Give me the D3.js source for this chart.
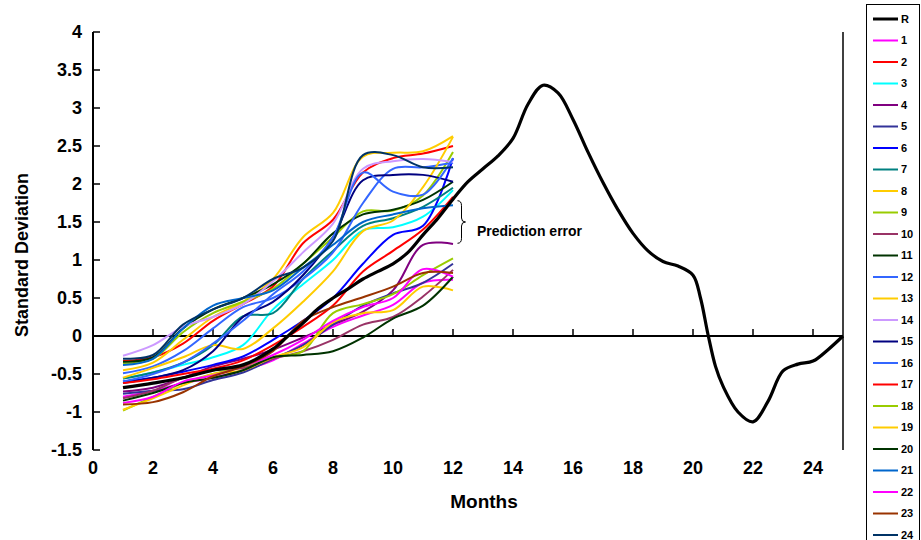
<!DOCTYPE html>
<html>
<head>
<meta charset="utf-8">
<script src="https://cdn.jsdelivr.net/npm/d3@7"></script>
<style>
	body { margin: 0; background: #fff; }
	svg text { font-family: "Liberation Sans", Arial, sans-serif; font-weight: bold; fill: #000; }
</style>
</head>
<body>
<div id="chart"></div>
<script>
// reference run R, sampled finer than the members
const refMonths = [1,2,3,4,5,6,6.5,7,7.5,8,8.5,9,9.5,10,10.5,11,11.5,12,12.5,13,13.5,14,14.5,15,15.5,16,16.5,17,17.5,18,18.5,19,19.5,20,20.25,20.5,20.75,21,21.5,22,22.5,23,23.5,24,24.5,25];
const refValues = [-0.68,-0.62,-0.55,-0.45,-0.38,-0.17,0.0,0.17,0.36,0.5,0.62,0.75,0.85,0.95,1.1,1.33,1.55,1.8,2.03,2.2,2.37,2.6,3.05,3.3,3.2,2.85,2.42,2.02,1.66,1.35,1.12,0.98,0.92,0.8,0.5,0.02,-0.4,-0.66,-1.0,-1.13,-0.86,-0.46,-0.37,-0.33,-0.18,0];

// ensemble members, months 1..12
const months = [1,2,3,4,5,6,7,8,9,10,11,12];
const m1  = [-0.8,-0.72,-0.62,-0.55,-0.45,-0.32,-0.1,0.12,0.27,0.41,0.7,0.74];
const m2  = [-0.33,-0.28,-0.1,0.2,0.42,0.65,1.22,1.53,2.15,2.34,2.4,2.5];
const m3  = [-0.56,-0.48,-0.38,-0.28,-0.12,0.35,0.68,1.0,1.39,1.43,1.57,1.92];
const m4  = [-0.73,-0.68,-0.55,-0.4,-0.3,-0.18,-0.02,0.15,0.32,0.6,1.2,1.21];
const m5  = [-0.76,-0.72,-0.7,-0.58,-0.48,-0.3,-0.12,0.15,0.4,0.56,0.7,0.95];
const m6  = [-0.6,-0.55,-0.47,-0.38,-0.27,-0.05,0.2,0.5,0.95,1.33,1.45,2.34];
const m7  = [-0.56,-0.48,-0.35,-0.12,0.26,0.3,0.75,1.12,1.45,1.55,1.7,1.95];
const m8  = [-0.45,-0.35,-0.05,0.25,0.45,0.75,1.3,1.62,2.36,2.41,2.43,2.63];
const m9  = [-0.36,-0.3,0.05,0.3,0.45,0.62,0.95,1.3,1.64,1.65,1.85,2.42];
const m10 = [-0.82,-0.72,-0.55,-0.45,-0.42,-0.3,-0.2,-0.05,0.15,0.25,0.52,0.87];
const m11 = [-0.34,-0.28,0.1,0.35,0.5,0.68,0.95,1.35,1.6,1.66,1.79,2.03];
const m12 = [-0.49,-0.4,-0.2,0.1,0.38,0.5,0.75,1.1,1.75,2.2,2.22,2.28];
const m13 = [-0.55,-0.42,-0.28,-0.12,-0.17,0.1,0.45,0.85,1.38,1.52,1.96,2.62];
const m14 = [-0.26,-0.12,0.12,0.25,0.42,0.72,1.1,1.48,2.2,2.3,2.33,2.29];
const m15 = [-0.62,-0.55,-0.45,-0.2,0.25,0.45,0.8,1.3,2.05,2.12,2.12,2.03];
const m16 = [-0.6,-0.5,-0.35,-0.1,0.2,0.55,0.85,1.3,2.15,1.9,1.86,2.34];
const m17 = [-0.62,-0.57,-0.5,-0.43,-0.32,-0.12,0.12,0.4,0.85,1.12,1.4,1.83];
const m18 = [-0.98,-0.8,-0.62,-0.5,-0.4,-0.28,-0.2,0.3,0.42,0.55,0.8,1.02];
const m19 = [-0.97,-0.82,-0.65,-0.5,-0.45,-0.28,-0.15,0.18,0.3,0.34,0.65,0.6];
const m20 = [-0.85,-0.75,-0.62,-0.55,-0.45,-0.28,-0.25,-0.2,-0.02,0.23,0.4,0.78];
const m21 = [-0.38,-0.3,0.1,0.4,0.5,0.6,0.9,1.2,1.5,1.6,1.68,1.72];
const m22 = [-0.88,-0.8,-0.6,-0.52,-0.4,-0.25,-0.05,0.2,0.38,0.5,0.88,0.78];
const m23 = [-0.9,-0.87,-0.74,-0.53,-0.4,-0.2,0.2,0.38,0.51,0.65,0.83,0.83];
const m24 = [-0.3,-0.25,0.15,0.35,0.5,0.75,0.9,1.25,2.38,2.38,2.22,2.22];

const memberValues = [m1,m2,m3,m4,m5,m6,m7,m8,m9,m10,m11,m12,m13,m14,m15,m16,m17,m18,m19,m20,m21,m22,m23,m24];
const memberNames = d3.range(1, 25).map(String);
const memberColors = ['#FF00FF','#FF0000','#00FFFF','#800080','#333399','#0000FF','#008080','#FFCC00',
	'#99CC00','#993366','#003300','#3366FF','#FFCC00','#CC99FF','#000080','#3366FF',
	'#FF0000','#99CC00','#FFCC00','#003300','#0066CC','#FF00FF','#993300','#003366'];

const yTicks = [-1.5,-1,-0.5,0,0.5,1,1.5,2,2.5,3,3.5,4];
const xTicks = [0,2,4,6,8,10,12,14,16,18,20,22,24];

const width = 921, height = 540;
const svg = d3.select('#chart').append('svg')
	.attr('width', width)
	.attr('height', height);

const x = d3.scaleLinear().domain([0, 25]).range([93, 843]);
const y = d3.scaleLinear().domain([-1.5, 4]).range([450, 32]);

// y axis: line on the left, ticks pointing inwards
svg.append('line')
	.attr('x1', x(0)).attr('x2', x(0))
	.attr('y1', y(4)).attr('y2', y(-1.5))
	.style('stroke', '#000').style('stroke-width', 2);

svg.append('line')
	.attr('x1', x(25)).attr('x2', x(25))
	.attr('y1', y(4)).attr('y2', y(-1.5))
	.style('stroke', '#000').style('stroke-width', 1.5);

svg.append('g').selectAll('line')
	.data(yTicks)
	.enter().append('line')
		.attr('x1', x(0)).attr('x2', x(0) + 7)
		.attr('y1', d => y(d)).attr('y2', d => y(d))
		.style('stroke', '#000').style('stroke-width', 1.5);

svg.append('g').selectAll('text')
	.data(yTicks)
	.enter().append('text')
		.attr('x', 82)
		.attr('y', d => y(d))
		.attr('dy', '0.36em')
		.attr('text-anchor', 'end')
		.style('font-size', '18px')
		.text(d => d);

// x axis crosses at zero, labels sit under the plot
svg.append('line')
	.attr('x1', x(0)).attr('x2', x(25))
	.attr('y1', y(0)).attr('y2', y(0))
	.style('stroke', '#000').style('stroke-width', 2);

svg.append('g').selectAll('line')
	.data(xTicks.filter(d => d > 0))
	.enter().append('line')
		.attr('x1', d => x(d)).attr('x2', d => x(d))
		.attr('y1', y(0)).attr('y2', y(0) - 7)
		.style('stroke', '#000').style('stroke-width', 1.5);

svg.append('g').selectAll('text')
	.data(xTicks)
	.enter().append('text')
		.attr('x', d => x(d))
		.attr('y', 474)
		.attr('text-anchor', 'middle')
		.style('font-size', '18px')
		.text(d => d);

svg.append('text')
	.attr('x', 484)
	.attr('y', 508)
	.attr('text-anchor', 'middle')
	.style('font-size', '19px')
	.text('Months');

svg.append('text')
	.attr('transform', 'translate(28,255) rotate(-90)')
	.attr('text-anchor', 'middle')
	.style('font-size', '18px')
	.text('Standard Deviation');

// lines
const line = d3.line()
	.x(d => x(d[0]))
	.y(d => y(d[1]))
	.curve(d3.curveCatmullRom.alpha(0.5));

svg.append('g')
	.selectAll('path')
	.data(memberValues)
	.enter().append('path')
		.attr('d', vals => line(vals.map((v, i) => [months[i], v])))
		.style('fill', 'none')
		.style('stroke', (d, i) => memberColors[i])
		.style('stroke-width', 2);

svg.append('path')
	.attr('d', line(refValues.map((v, i) => [refMonths[i], v])))
	.style('fill', 'none')
	.style('stroke', '#000')
	.style('stroke-width', 3.2);

// prediction error brace
const bx = x(12.15), bTop = y(1.78), bBot = y(1.22), bMid = (bTop + bBot) / 2, bw = 4;
svg.append('path')
	.attr('d', `M${bx},${bTop} Q${bx + bw},${bTop} ${bx + bw},${bTop + 5} L${bx + bw},${bMid - 4} Q${bx + bw},${bMid} ${bx + 2 * bw},${bMid}`
		+ ` Q${bx + bw},${bMid} ${bx + bw},${bMid + 4} L${bx + bw},${bBot - 5} Q${bx + bw},${bBot} ${bx},${bBot}`)
	.style('fill', 'none')
	.style('stroke', '#000')
	.style('stroke-width', 1);

svg.append('text')
	.attr('x', 477)
	.attr('y', 236)
	.style('font-size', '14px')
	.text('Prediction error');

// legend
const legendNames = ['R'].concat(memberNames);
const legendColors = ['#000'].concat(memberColors);

const legend = svg.append('g');
legend.append('rect')
	.attr('x', 866.5).attr('y', 4.5)
	.attr('width', 53).attr('height', 560)
	.style('fill', '#fff')
	.style('stroke', '#000')
	.style('stroke-width', 1);

const rows = legend.selectAll('g.row')
	.data(legendNames)
	.enter().append('g')
		.attr('class', 'row')
		.attr('transform', (d, i) => `translate(0,${19 + i * 21.5})`);

rows.append('line')
	.attr('x1', 873).attr('x2', 898)
	.attr('y1', 0).attr('y2', 0)
	.style('stroke', (d, i) => legendColors[i])
	.style('stroke-width', (d, i) => i == 0 ? 3 : 2);

rows.append('text')
	.attr('x', 901)
	.attr('dy', '0.36em')
	.style('font-size', '11px')
	.text(d => d);
</script>
</body>
</html>
